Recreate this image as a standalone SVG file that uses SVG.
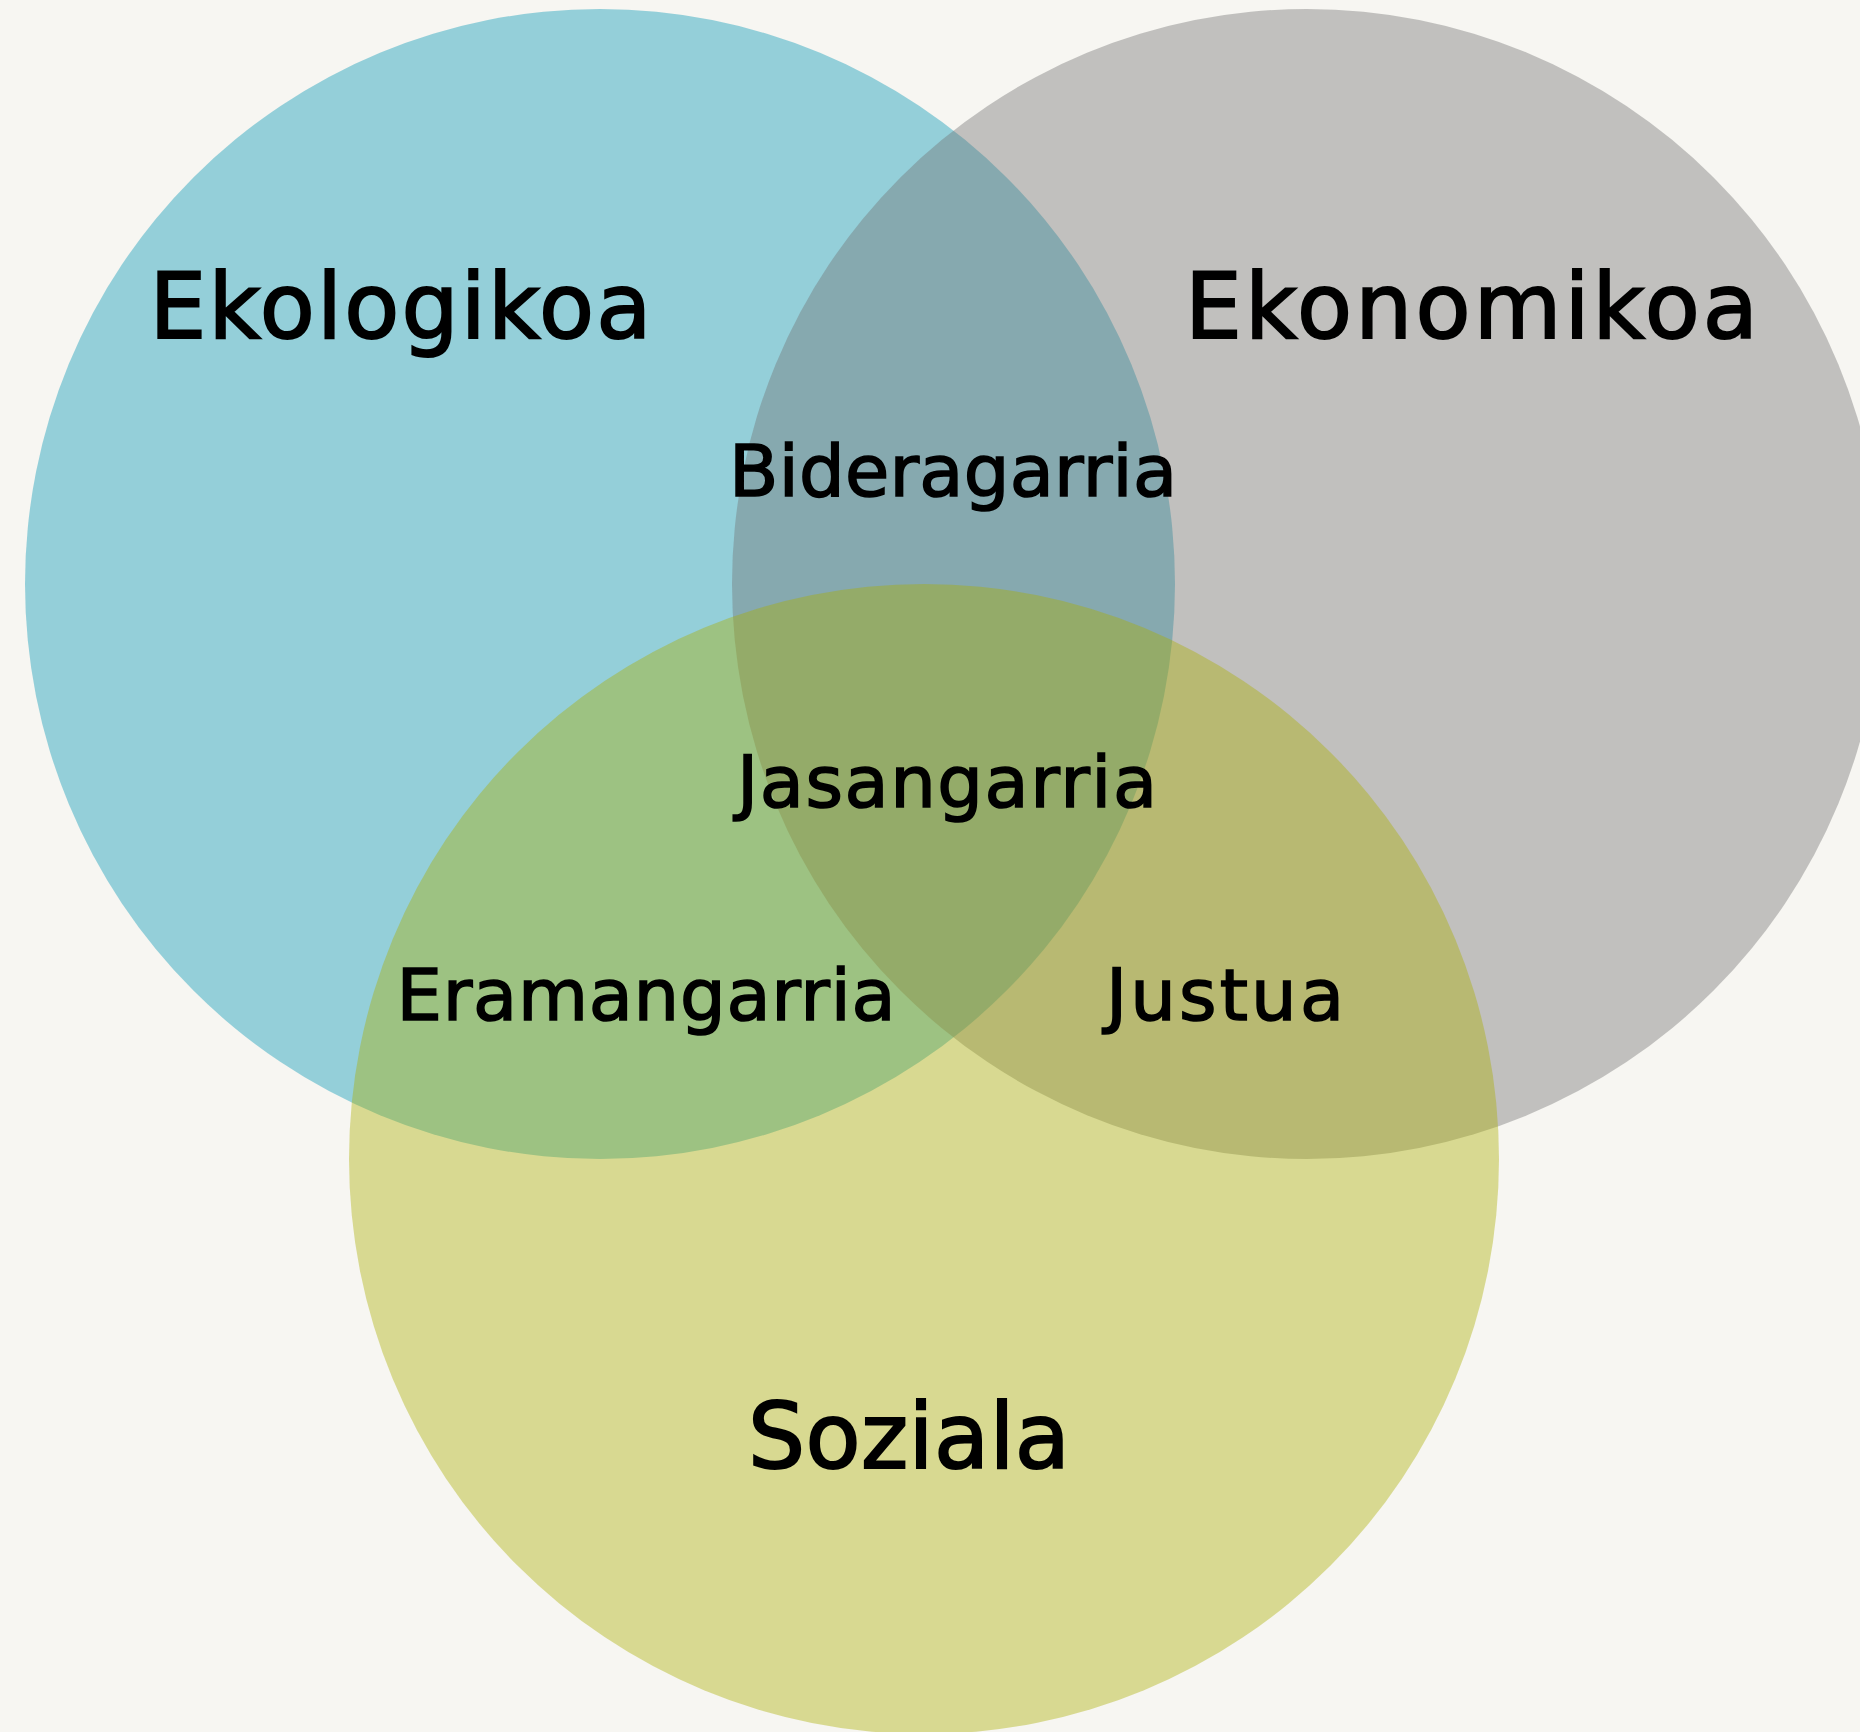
<svg xmlns="http://www.w3.org/2000/svg" width="1860" height="1732" viewBox="0 0 1860 1732">
  <style>
    .set { fill-opacity: 0.4; }
    .big { font-family: "DejaVu Sans", "Liberation Sans", sans-serif; font-size: 90px; fill: #000000; stroke: #000000; stroke-width: 2px; text-anchor: middle; }
    .small { font-family: "DejaVu Sans", "Liberation Sans", sans-serif; font-size: 72px; fill: #000000; stroke: #000000; stroke-width: 1.6px; text-anchor: middle; }
  </style>
  <rect x="0" y="0" width="1860" height="1732" fill="#f7f6f2"/>
  <g id="ekologikoa">
    <circle class="set" cx="600" cy="584" r="575" fill="#0095b4"/>
    <text class="big" x="400.5" y="338" textLength="502">Ekologikoa</text>
  </g>
  <g id="ekonomikoa">
    <circle class="set" cx="1307" cy="584" r="575" fill="#707070"/>
    <text class="big" x="1471.5" y="338" textLength="573">Ekonomikoa</text>
  </g>
  <g id="soziala">
    <circle class="set" cx="924" cy="1159" r="575" fill="#aaae00"/>
    <text class="big" x="909" y="1468" textLength="322">Soziala</text>
  </g>
  <g id="bideragarria">
    <text class="small" x="953" y="496" textLength="448">Bideragarria</text>
  </g>
  <g id="jasangarria">
    <text class="small" x="947" y="807" textLength="420">Jasangarria</text>
  </g>
  <g id="eramangarria">
    <text class="small" x="646" y="1020" textLength="499">Eramangarria</text>
  </g>
  <g id="justua">
    <text class="small" x="1225" y="1020" textLength="238">Justua</text>
  </g>
  <g id="connectors"></g>
</svg>
